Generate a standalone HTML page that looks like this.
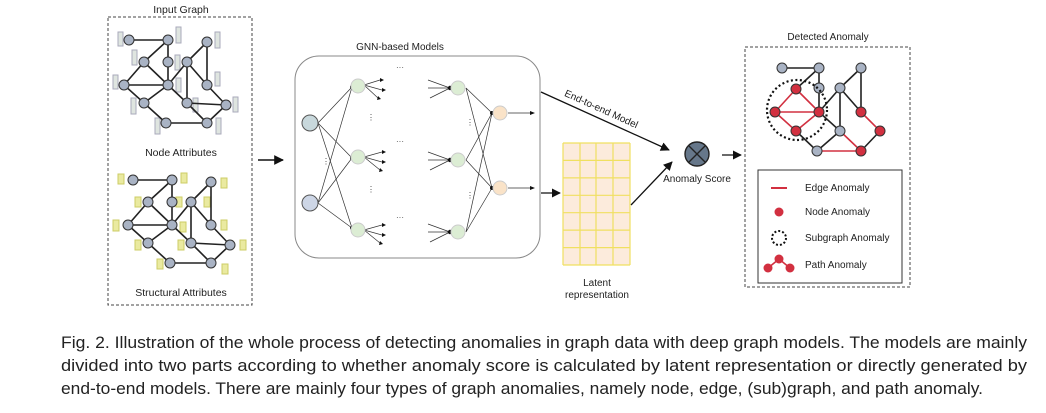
<!DOCTYPE html>
<html><head><meta charset="utf-8"><style>
html,body{margin:0;padding:0;background:#fff;}
svg{display:block;font-family:"Liberation Sans",sans-serif;}
</style></head><body>
<svg width="1046" height="413" viewBox="0 0 1046 413" xmlns="http://www.w3.org/2000/svg">
<defs>
<marker id="ar" viewBox="0 0 10 10" refX="9" refY="5" markerWidth="7" markerHeight="7" orient="auto"><path d="M0,0L10,5L0,10z" fill="#111"/></marker>
<marker id="as" viewBox="0 0 10 10" refX="9" refY="5" markerWidth="5" markerHeight="5" orient="auto"><path d="M0,0L10,5L0,10z" fill="#111"/></marker>
<g id="gr" stroke="#222" stroke-width="1.6" fill="none">
<path d="M129,40L168,40M168,40L168,62M144,62L168,40M168,62L168,85M144,62L124,85M144,62L168,85M124,85L168,85M124,85L144,103M168,85L144,103M168,85L187,62M168,85L187,103M187,62L207,42M187,62L187,103M187,62L207,85M207,42L207,85M207,85L226,105M187,103L226,105M144,103L166,123M166,123L207,123M226,105L207,123M187,103L207,123"/>
<g fill="#a9b3c4" stroke="#333" stroke-width="1">
<circle cx="129" cy="40" r="5"/><circle cx="168" cy="40" r="5"/><circle cx="207" cy="42" r="5"/><circle cx="144" cy="62" r="5"/><circle cx="168" cy="62" r="5"/><circle cx="187" cy="62" r="5"/><circle cx="124" cy="85" r="5"/><circle cx="168" cy="85" r="5"/><circle cx="207" cy="85" r="5"/><circle cx="144" cy="103" r="5"/><circle cx="187" cy="103" r="5"/><circle cx="226" cy="105" r="5"/><circle cx="166" cy="123" r="5"/><circle cx="207" cy="123" r="5"/>
</g></g>
</defs>

<!-- Input graph -->
<text x="181" y="13" font-size="10.5" text-anchor="middle" fill="#222">Input Graph</text>
<rect x="108" y="17" width="144" height="288" fill="none" stroke="#444" stroke-dasharray="3,2"/>
<g fill="#dfe5e0" stroke="#aab" stroke-width="1">
<rect x="118" y="32" width="5" height="14"/><rect x="176" y="27" width="5" height="16"/><rect x="215" y="32" width="5" height="16"/><rect x="132" y="50" width="5" height="15"/><rect x="175" y="55" width="5" height="15"/><rect x="113" y="75" width="5" height="14"/><rect x="215" y="72" width="5" height="14"/><rect x="176" y="78" width="5" height="14"/><rect x="131" y="98" width="5" height="16"/><rect x="193" y="98" width="5" height="14"/><rect x="233" y="97" width="5" height="15"/><rect x="155" y="118" width="5" height="16"/><rect x="216" y="118" width="5" height="16"/>
</g>
<use href="#gr"/>
<text x="181" y="156" font-size="10.5" text-anchor="middle" fill="#222">Node Attributes</text>
<g fill="#eaeaa0" stroke="#cc6" stroke-width="1">
<rect x="118" y="174" width="6" height="10"/><rect x="181" y="173" width="6" height="10"/><rect x="221" y="178" width="6" height="10"/><rect x="135" y="197" width="6" height="10"/><rect x="176" y="197" width="6" height="10"/><rect x="204" y="197" width="6" height="10"/><rect x="113" y="220" width="6" height="11"/><rect x="180" y="222" width="6" height="10"/><rect x="221" y="220" width="6" height="10"/><rect x="135" y="240" width="6" height="10"/><rect x="178" y="240" width="6" height="10"/><rect x="240" y="240" width="6" height="10"/><rect x="157" y="259" width="6" height="10"/><rect x="222" y="264" width="6" height="10"/>
</g>
<use href="#gr" transform="translate(4,140)"/>
<text x="181" y="296" font-size="10.5" text-anchor="middle" fill="#222">Structural Attributes</text>

<line x1="258" y1="160" x2="283" y2="160" stroke="#111" stroke-width="1.4" marker-end="url(#ar)"/>

<!-- GNN -->
<text x="400" y="50" font-size="10" text-anchor="middle" fill="#222">GNN-based Models</text>
<rect x="295" y="56" width="245" height="202" rx="24" fill="none" stroke="#888" stroke-width="1"/>
<g stroke="#333" stroke-width="0.7" fill="none">
<path d="M318,123L352,87M318,123L352,158M318,123L352,228M318,203L352,87M318,203L352,158M318,203L352,228"/>
<path d="M364,85L380,80M364,85L382,90M364,85L378,98M364,157L382,152M364,157L382,162M364,157L380,170M364,230L382,225M364,230L382,235M364,230L380,243"/>
<path d="M428,80L450,88M428,88L450,88M430,98L450,88M428,152L450,160M428,160L450,160M430,170L450,160M428,224L450,232M428,232L450,232M430,242L450,232M466,88L492,113M466,88L492,188M466,160L492,113M466,160L492,188M466,232L492,113M466,232L492,188M508,113L530,113M508,188L530,188"/>
</g>
<g fill="#111"><circle cx="352" cy="87" r="2"/><circle cx="352" cy="158" r="2"/><circle cx="352" cy="228" r="2"/><circle cx="450" cy="88" r="2.2"/><circle cx="450" cy="160" r="2.2"/><circle cx="450" cy="232" r="2.2"/><circle cx="492" cy="113" r="2"/><circle cx="492" cy="188" r="2"/>
<path d="M380,78l4,2-4,2zM382,88l4,2-4,2zM378,96l3,3-4,1zM382,150l4,2-4,2zM382,160l4,2-4,2zM380,168l3,3-4,1zM382,223l4,2-4,2zM382,233l4,2-4,2zM380,241l3,3-4,1zM530,111l5,2-5,2zM530,186l5,2-5,2z"/></g>
<g stroke="#ccc" stroke-width="1"><circle cx="310" cy="123" r="8" fill="#c8d8dc" stroke="#555"/><circle cx="310" cy="203" r="8" fill="#cdd6e6" stroke="#555"/>
<circle cx="358" cy="86" r="7" fill="#dcedd4"/><circle cx="358" cy="157" r="7" fill="#dcedd4"/><circle cx="358" cy="230" r="7" fill="#dcedd4"/>
<circle cx="458" cy="88" r="7" fill="#dcedd4"/><circle cx="458" cy="160" r="7" fill="#dcedd4"/><circle cx="458" cy="232" r="7" fill="#dcedd4"/>
<circle cx="500" cy="113" r="7" fill="#fae3c8"/><circle cx="500" cy="188" r="7" fill="#fae3c8"/></g>
<g font-size="8" fill="#444" text-anchor="middle"><text x="400" y="70">···</text><text x="400" y="144">···</text><text x="400" y="220">···</text><text x="371" y="120">⋮</text><text x="371" y="192">⋮</text><text x="470" y="125">⋮</text><text x="470" y="198">⋮</text><text x="326" y="164">⋮</text></g>

<!-- latent -->
<line x1="541" y1="193" x2="560" y2="193" stroke="#111" stroke-width="1.3" marker-end="url(#ar)"/>
<rect x="563" y="143" width="67" height="122" fill="#fcebdc"/>
<g stroke="#f0e060" stroke-width="1.2"><path d="M563,143H630M563,160.4H630M563,177.9H630M563,195.3H630M563,212.7H630M563,230.1H630M563,247.6H630M563,265H630M563,143V265M580,143V265M596,143V265M613,143V265M630,143V265"/></g>
<text x="597" y="286" font-size="10" text-anchor="middle" fill="#222">Latent</text>
<text x="597" y="298" font-size="10" text-anchor="middle" fill="#222">representation</text>
<line x1="631" y1="205" x2="672" y2="162" stroke="#111" stroke-width="1.3" marker-end="url(#ar)"/>
<line x1="541" y1="92" x2="669" y2="150" stroke="#111" stroke-width="1.3" marker-end="url(#ar)"/>
<text x="600" y="112" font-size="10" fill="#222" text-anchor="middle" transform="rotate(24.4 600 112)">End-to-end Model</text>
<circle cx="697" cy="154" r="12" fill="#66778a" stroke="#222" stroke-width="1.4"/>
<path d="M689,146L705,162M705,146L689,162" stroke="#222" stroke-width="1.4"/>
<text x="697" y="182" font-size="10" text-anchor="middle" fill="#222">Anomaly Score</text>
<line x1="722" y1="155" x2="741" y2="155" stroke="#111" stroke-width="1.3" marker-end="url(#ar)"/>

<!-- detected -->
<text x="828" y="40" font-size="10" text-anchor="middle" fill="#222">Detected Anomaly</text>
<rect x="745" y="47" width="165" height="240" fill="none" stroke="#444" stroke-dasharray="3,2"/>
<g stroke="#222" stroke-width="1.6" fill="none">
<path d="M782,68L819,68M819,68L819,88M819,68L796,89M819,88L819,112M840,88L861,68M840,88L819,112M840,88L840,131M840,88L861,112M861,68L861,112M819,112L840,131M840,131L817,151M796,131L817,151M880,131L861,151"/>
</g>
<g stroke="#d23040" stroke-width="1.6" fill="none"><path d="M796,89L775,112M796,89L819,112M775,112L819,112M775,112L796,131M819,112L796,131M817,151L861,151M861,112L880,131M840,131L861,151"/></g>
<g stroke="#333" stroke-width="1"><g fill="#a9b3c4"><circle cx="782" cy="68" r="5"/><circle cx="819" cy="68" r="5"/><circle cx="861" cy="68" r="5"/><circle cx="819" cy="88" r="5"/><circle cx="840" cy="88" r="5"/><circle cx="840" cy="131" r="5"/><circle cx="817" cy="151" r="5"/></g>
<g fill="#d23040"><circle cx="796" cy="89" r="5"/><circle cx="775" cy="112" r="5"/><circle cx="819" cy="112" r="5"/><circle cx="861" cy="112" r="5"/><circle cx="796" cy="131" r="5"/><circle cx="880" cy="131" r="5"/><circle cx="861" cy="151" r="5"/></g></g>
<circle cx="797" cy="110" r="30" fill="none" stroke="#111" stroke-width="2.2" stroke-dasharray="2,2.5"/>
<rect x="758" y="170" width="144" height="113" fill="#fff" stroke="#333" stroke-width="1"/>
<line x1="771" y1="188" x2="787" y2="188" stroke="#d23040" stroke-width="2"/>
<circle cx="779" cy="212" r="4.5" fill="#d23040"/>
<circle cx="779" cy="238" r="7" fill="none" stroke="#111" stroke-width="2" stroke-dasharray="2,2"/>
<path d="M768,268L779,259L790,268" stroke="#d23040" stroke-width="1.6" fill="none"/>
<g fill="#d23040"><circle cx="768" cy="268" r="4.5"/><circle cx="779" cy="259" r="4.5"/><circle cx="790" cy="268" r="4.5"/></g>
<g font-size="10" fill="#222"><text x="805" y="191">Edge Anomaly</text><text x="805" y="215">Node Anomaly</text><text x="805" y="241">Subgraph Anomaly</text><text x="805" y="268">Path Anomaly</text></g>

<!-- caption -->
<g font-size="16.5" fill="#222">
<text x="61" y="348" textLength="966" lengthAdjust="spacingAndGlyphs">Fig. 2.  Illustration of the whole process of detecting anomalies in graph data with deep graph models. The models are mainly</text>
<text x="61" y="371" textLength="966" lengthAdjust="spacingAndGlyphs">divided into two parts according to whether anomaly score is calculated by latent representation or directly generated by</text>
<text x="61" y="394" textLength="922" lengthAdjust="spacingAndGlyphs">end-to-end models. There are mainly four types of graph anomalies, namely node, edge, (sub)graph, and path anomaly.</text>
</g>
</svg>
</body></html>
